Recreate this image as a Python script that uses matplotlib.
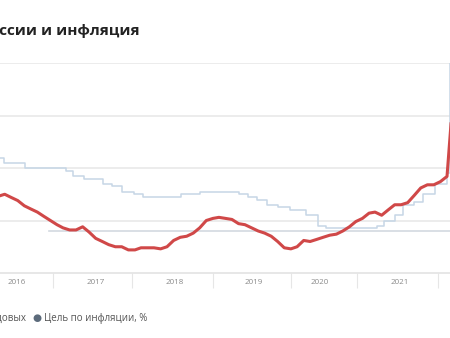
import numpy as np
import pandas as pd
import matplotlib
matplotlib.use("Agg")
import matplotlib.pyplot as plt
import matplotlib.dates as mdates

plt.rcParams['font.family'] = ['Open Sans', 'DejaVu Sans']

# ключевая ставка (дата изменения, %)
rate_dates = ["2016-01-01", "2016-06-14", "2016-09-19", "2017-03-27", "2017-05-02",
              "2017-06-19", "2017-09-18", "2017-10-30", "2017-12-18", "2018-02-12",
              "2018-03-26", "2018-09-17", "2018-12-17", "2019-06-17", "2019-07-29",
              "2019-09-09", "2019-10-28", "2019-12-16", "2020-02-10", "2020-04-27",
              "2020-06-22", "2020-07-27", "2021-03-22", "2021-04-26", "2021-06-15",
              "2021-07-26", "2021-09-13", "2021-10-25", "2021-12-20", "2022-02-14",
              "2022-02-28", "2022-04-01"]
rate_vals = [11.0, 10.5, 10.0, 9.75, 9.25, 9.0, 8.5, 8.25, 7.75, 7.5,
             7.25, 7.5, 7.75, 7.5, 7.25, 7.0, 6.5, 6.25, 6.0, 5.5,
             4.5, 4.25, 4.5, 5.0, 5.5, 6.5, 6.75, 7.5, 8.5, 9.5,
             20.0, 20.0]

# инфляция, % г/г, помесячно с января 2016
infl_start = "2016-01"
infl_vals = [9.8, 8.1, 7.3, 7.2, 7.3, 7.5, 7.2, 6.9, 6.4, 6.1, 5.8, 5.4,
             5.0, 4.6, 4.3, 4.1, 4.1, 4.4, 3.9, 3.3, 3.0, 2.7, 2.5, 2.5,
             2.2, 2.2, 2.4, 2.4, 2.4, 2.3, 2.5, 3.1, 3.4, 3.5, 3.8, 4.3,
             5.0, 5.2, 5.3, 5.2, 5.1, 4.7, 4.6, 4.3, 4.0, 3.8, 3.5, 3.0,
             2.4, 2.3, 2.5, 3.1, 3.0, 3.2, 3.4, 3.6, 3.7, 4.0, 4.4, 4.9,
             5.2, 5.7, 5.8, 5.5, 6.0, 6.5, 6.5, 6.7, 7.4, 8.1, 8.4, 8.4,
             8.7, 9.2, 16.7]

target_dates = ["2017-01-10", "2022-04-01"]
target_vals = [4.0, 4.0]

sep_dates = ["2017-01-29", "2018-02-03", "2019-02-13", "2020-02-17", "2020-12-22", "2022-01-05"]
year_label_dates = ["2016-08-09", "2017-08-14", "2018-08-19", "2019-08-24", "2020-06-28", "2021-07-07"]
year_labels = ["2016", "2017", "2018", "2019", "2020", "2021"]

rd = pd.to_datetime(rate_dates)
idates = pd.date_range(infl_start, periods=len(infl_vals), freq="MS") + pd.Timedelta(days=14)
td = pd.to_datetime(target_dates)

fig = plt.figure(figsize=(4.5, 3.38), dpi=100)
ax = fig.add_axes([0, 65/338, 1, 210/338])

for g in [5, 10, 15, 20]:
    ax.axhline(g, color="#ececec", lw=1.4, zorder=0)

ax.plot(td, target_vals, color="#d3d9e0", lw=1.2, zorder=1)
ax.step(rd, rate_vals, where="post", color="#c6d6e6", lw=1.1, zorder=2)
ax.plot(idates, infl_vals, color="#d04848", lw=2.2, zorder=3, solid_joinstyle="round")

ax.set_xlim(pd.Timestamp("2016-05-24"), pd.Timestamp("2022-03-01"))
ax.set_ylim(0, 20)

for s in ["top", "right", "left"]:
    ax.spines[s].set_visible(False)
ax.spines["bottom"].set_color("#e3e3e3")
ax.spines["bottom"].set_linewidth(1.2)
ax.set_yticks([])

ax.set_xticks(pd.to_datetime(sep_dates))
ax.set_xticklabels([])
ax.tick_params(axis="x", which="major", length=11, width=0.8, color="#e6e6e6")
ax.set_xticks(pd.to_datetime(year_label_dates), minor=True)
ax.set_xticklabels(year_labels, minor=True)
ax.tick_params(axis="x", which="minor", length=0, pad=4, labelsize=5.8, labelcolor="#8a8a8a")

fig.text(140/450, 1 - 31/338, "Ключевая ставка Банка России и инфляция",
         ha="right", va="center", fontsize=11, fontweight="bold", color="#222222")

fig.text(26/450, 1 - 318/338, "Инфляция, % годовых", ha="right", va="center",
         fontsize=7, color="#555555")
fig.text(37/450, 1 - 318/338, "●", ha="center", va="center", fontsize=7.5, color="#5c6b7b",
         family="DejaVu Sans")
fig.text(44/450, 1 - 318/338, "Цель по инфляции, %", ha="left", va="center",
         fontsize=7, color="#555555")

fig.savefig("out.png", dpi=100)
